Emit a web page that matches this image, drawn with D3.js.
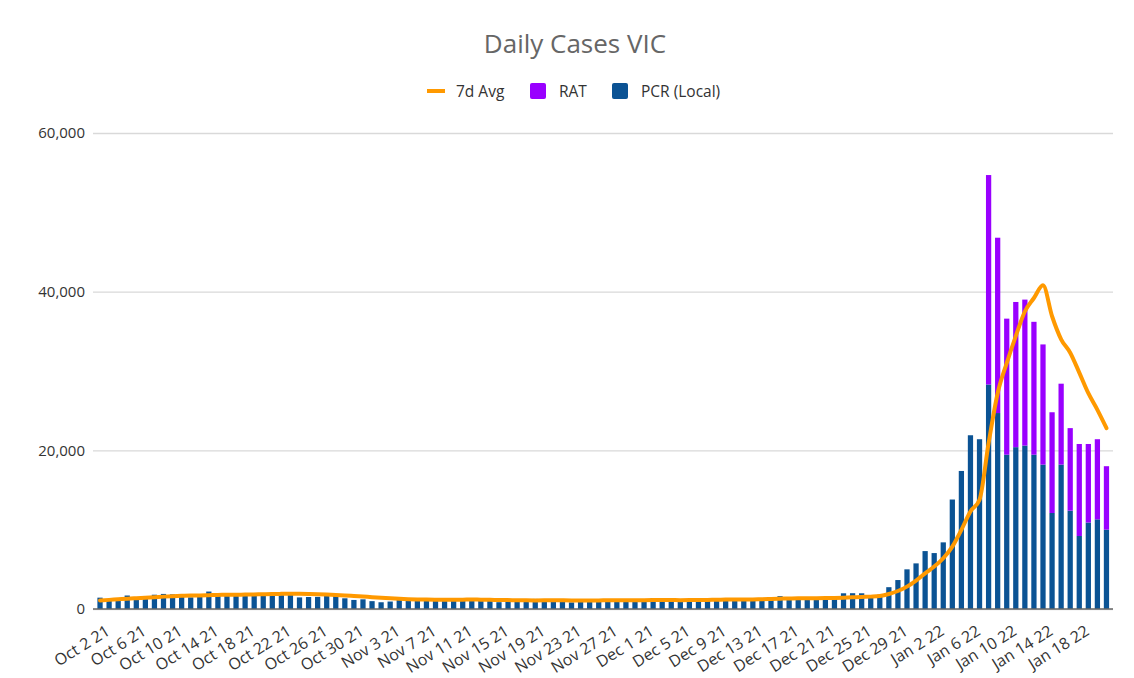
<!DOCTYPE html>
<html>
<head>
<meta charset="utf-8">
<script src="https://cdn.jsdelivr.net/npm/d3@7"></script>
<style>
  body { margin: 0; background: #fff; }
  text { font-family: "Open Sans", "Liberation Sans", sans-serif; }
</style>
</head>
<body>
<div id="chart"></div>
<script>
// daily cases, Oct 2 2021 .. Jan 21 2022
var firstDay = new Date(2021, 9, 2);
var lastDay = new Date(2022, 0, 22);

var pcr = [
    // Oct 2 - Oct 31
    1430, 1220, 1380, 1700, 1420, 1640, 1800, 1900, 1850, 1610,
    1470, 1570, 2200, 1990, 1840, 1900, 1750, 1840, 2000, 2050,
    1750, 1930, 1460, 1510, 1530, 1900, 1650, 1350, 1140, 1220,
    // Nov
    990, 850, 940, 1250, 1340, 1310, 1130, 1040, 1000, 1270,
    1360, 1310, 1050, 1120, 860, 1000, 1010, 1190, 1270, 1030,
    1220, 920, 830, 1030, 1250, 1250, 1060, 1180, 1010, 920,
    // Dec
    1180, 1370, 1190, 980, 1070, 1190, 1260, 1230, 1310, 1210,
    1190, 1290, 1070, 1180, 1400, 1620, 1500, 1240, 1300, 1250,
    1510, 1500, 1980, 1990, 1980, 1600, 1800, 2750, 3650, 5000, 5750,
    // Jan
    7300, 7050, 8400, 13800, 17400, 21900, 21400, 28300, 24700, 19450,
    20400, 20600, 19450, 18200, 12100, 18200, 12400, 9200, 10900, 11300, 10000
];

// RAT results only reported from Jan 8 22
var ratStart = "Jan 8 22";
var rat = [26400, 22100, 17150, 18300, 18400, 16750, 15150, 12700, 10200, 10400, 11600, 9900, 10100, 8000];

var avg7 = [
    1080, 1150, 1220, 1300, 1360, 1420, 1480, 1560, 1620, 1660,
    1690, 1710, 1740, 1780, 1790, 1800, 1820, 1840, 1870, 1880,
    1910, 1930, 1920, 1890, 1860, 1820, 1770, 1710, 1640, 1570,
    1490, 1410, 1340, 1280, 1240, 1210, 1190, 1180, 1170, 1170,
    1180, 1190, 1180, 1160, 1140, 1120, 1100, 1090, 1080, 1090,
    1100, 1090, 1080, 1060, 1070, 1080, 1100, 1110, 1100, 1090,
    1100, 1120, 1140, 1130, 1110, 1120, 1130, 1150, 1170, 1190,
    1200, 1200, 1210, 1230, 1260, 1300, 1330, 1350, 1360, 1370,
    1380, 1390, 1420, 1470, 1520, 1560, 1640, 1890, 2270, 2820,
    3580, 4500, 5350, 6400, 7870, 9980, 12300, 13770, 20900, 27200,
    31000, 34400, 37500, 39200, 40800, 36900, 34000, 32300, 29800, 27200,
    25100, 22800
];

var tickLabels = [
    "Oct 2 21", "Oct 6 21", "Oct 10 21", "Oct 14 21", "Oct 18 21", "Oct 22 21", "Oct 26 21", "Oct 30 21",
    "Nov 3 21", "Nov 7 21", "Nov 11 21", "Nov 15 21", "Nov 19 21", "Nov 23 21", "Nov 27 21",
    "Dec 1 21", "Dec 5 21", "Dec 9 21", "Dec 13 21", "Dec 17 21", "Dec 21 21", "Dec 25 21", "Dec 29 21",
    "Jan 2 22", "Jan 6 22", "Jan 10 22", "Jan 14 22", "Jan 18 22"
];
var yTicks = [0, 20000, 40000, 60000];

var formatDay = d3.timeFormat("%b %-d %y");
var days = d3.timeDay.range(firstDay, lastDay).map(formatDay);
var ratIndex = days.indexOf(ratStart);

var rows = days.map(function (d, i) {
    var r = i >= ratIndex ? rat[i - ratIndex] : 0;
    return { day: d, pcr: pcr[i], rat: r, avg: avg7[i] };
});

var W = 1134, H = 678;
var plotLeft = 95.5, plotRight = 1111, plotTop = 133, plotBottom = 609;
var gridLeft = 93, gridRight = 1113;

var svg = d3.select("#chart")
    .append("svg")
    .attr("width", W)
    .attr("height", H);

var x = d3.scaleBand()
    .domain(days)
    .range([plotLeft, plotRight])
    .paddingInner(0.42)
    .paddingOuter(0.21);

var y = d3.scaleLinear()
    .domain([0, 60000])
    .range([plotBottom, plotTop]);

// title
svg.append("text")
    .attr("x", 575)
    .attr("y", 53)
    .attr("text-anchor", "middle")
    .attr("font-size", 26)
    .attr("fill", "#666")
    .text("Daily Cases VIC");

// gridlines + y labels
var yAxis = d3.axisLeft(y)
    .tickValues(yTicks)
    .tickSize(-(gridRight - gridLeft))
    .tickPadding(8)
    .tickFormat(d3.format(","));

var gy = svg.append("g")
    .attr("transform", "translate(" + gridLeft + ",0)")
    .call(yAxis);
gy.select(".domain").remove();
gy.selectAll(".tick line")
    .attr("stroke", "#d9d9d9")
    .attr("stroke-width", 1.3);
gy.selectAll(".tick text")
    .attr("font-size", 15)
    .attr("fill", "#333")
    .attr("x", -8);

// stacked bars
var stack = d3.stack().keys(["pcr", "rat"]);
var series = stack(rows);
var colors = { pcr: "#0b5394", rat: "#9900ff" };

svg.append("g")
    .selectAll("g")
    .data(series)
    .join("g")
    .attr("fill", function (s) { return colors[s.key]; })
    .selectAll("rect")
    .data(function (s) { return s; })
    .join("rect")
    .attr("x", function (d) { return x(d.data.day); })
    .attr("width", x.bandwidth())
    .attr("y", function (d) { return y(d[1]); })
    .attr("height", function (d) { return Math.max(0, y(d[0]) - y(d[1])); });

// baseline
svg.append("line")
    .attr("x1", gridLeft)
    .attr("x2", gridRight)
    .attr("y1", y(0))
    .attr("y2", y(0))
    .attr("stroke", "#666")
    .attr("stroke-width", 1.3);

// 7 day average
var line = d3.line()
    .x(function (d) { return x(d.day) + x.bandwidth() / 2; })
    .y(function (d) { return y(d.avg); })
    .curve(d3.curveMonotoneX);

svg.append("path")
    .datum(rows)
    .attr("d", line)
    .attr("fill", "none")
    .attr("stroke", "#ff9900")
    .attr("stroke-width", 4)
    .attr("stroke-linejoin", "round")
    .attr("stroke-linecap", "round");

// x labels
var xAxis = d3.axisBottom(x)
    .tickValues(tickLabels)
    .tickSize(0);

var gx = svg.append("g")
    .attr("transform", "translate(0," + plotBottom + ")")
    .call(xAxis);
gx.select(".domain").remove();
gx.selectAll(".tick text")
    .attr("font-size", 16)
    .attr("fill", "#333")
    .attr("text-anchor", "end")
    .attr("dy", 0)
    .attr("y", 0)
    .attr("transform", "translate(11,25) rotate(-32)");

// legend
var legend = svg.append("g").attr("font-size", 15.5).attr("fill", "#333");
legend.append("line")
    .attr("x1", 427).attr("x2", 445)
    .attr("y1", 91).attr("y2", 91)
    .attr("stroke", "#ff9900")
    .attr("stroke-width", 4);
legend.append("text").attr("x", 456).attr("y", 96.5).text("7d Avg");
legend.append("rect")
    .attr("x", 530).attr("y", 83).attr("width", 16).attr("height", 16).attr("rx", 2)
    .attr("fill", colors.rat);
legend.append("text").attr("x", 559).attr("y", 96.5).text("RAT");
legend.append("rect")
    .attr("x", 612).attr("y", 83).attr("width", 16).attr("height", 16).attr("rx", 2)
    .attr("fill", colors.pcr);
legend.append("text").attr("x", 641).attr("y", 96.5).text("PCR (Local)");
</script>
</body>
</html>
